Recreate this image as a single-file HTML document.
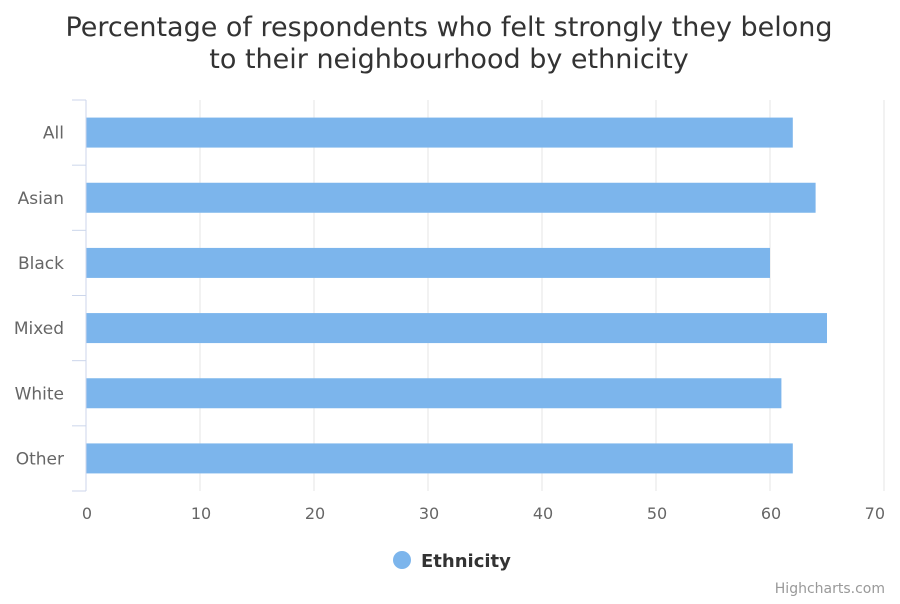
<!DOCTYPE html>
<html><head><meta charset="utf-8"><style>
body{margin:0;background:#fff;font-family:"DejaVu Sans","Liberation Sans",sans-serif}
</style></head><body>
<svg width="900" height="600" xmlns="http://www.w3.org/2000/svg">
<rect width="900" height="600" fill="#fff"/>
<text x="449" y="36" text-anchor="middle" font-size="27" fill="#333">Percentage of respondents who felt strongly they belong</text>
<text x="449" y="68" text-anchor="middle" font-size="27" fill="#333">to their neighbourhood by ethnicity</text>
<g id="grid"></g><g id="bars"></g><g id="axes"></g>
<g>
<circle cx="402" cy="560" r="9" fill="#7cb5ec"/>
<text x="421" y="567" font-size="18" font-weight="bold" fill="#333">Ethnicity</text>
</g>
<text x="885" y="593" text-anchor="end" font-size="14" fill="#999">Highcharts.com</text>
</svg>
<script>
const categories=["All","Asian","Black","Mixed","White","Other"];
const values=[62,64,60,65,61,62];
const xTicks=[0,10,20,30,40,50,60,70];
const NS="http://www.w3.org/2000/svg";
const L=86,R=884,T=100,B=491,max=70;
const x=v=>L+(R-L)*v/max;
const band=(B-T)/categories.length;
const y=i=>T+band*i;
function mk(t,a,p){const e=document.createElementNS(NS,t);for(const k in a)e.setAttribute(k,a[k]);document.getElementById(p).appendChild(e);return e;}
xTicks.forEach((v,i)=>{
 const g=mk("line",{x1:x(v),x2:x(v),y1:T,y2:B,stroke:"#e6e6e6"},"grid");
 
 
 const last=i===xTicks.length-1;
 const t=mk("text",{x:last?885:x(v)+1,y:519,"text-anchor":last?"end":"middle","font-size":16,fill:"#666"},"axes");
 t.textContent=v;
 
 
});
const ax=mk("line",{x1:L,x2:L,y1:T,y2:B,stroke:"#ccd6eb"},"axes");


for(let i=0;i<=categories.length;i++){
 const tk=mk("line",{x1:72,x2:L,y1:y(i),y2:y(i),stroke:"#ccd6eb"},"axes");
 
 
}
categories.forEach((c,i)=>{
 const cy=y(i)+band/2;
 const r=mk("rect",{x:L,y:cy-15,width:x(values[i])-L,height:30,fill:"#7cb5ec"},"bars");
 
 
 const t=mk("text",{x:64,y:cy+6,"text-anchor":"end","font-size":17,fill:"#666"},"axes");
 t.textContent=c;
 
 
});
</script>
</body></html>
